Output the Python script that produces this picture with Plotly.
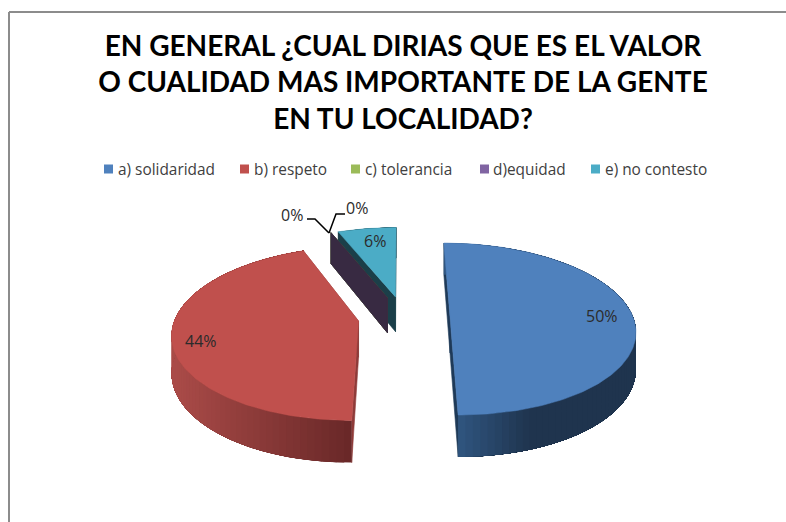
import math
import plotly.graph_objects as go

# ---- data ----
categories = ["a) solidaridad", "b) respeto", "c) tolerancia", "d)equidad", "e) no contesto"]
values = [50, 44, 0, 0, 6]
labels = ["50%", "44%", "0%", "0%", "6%"]
title_lines = ["EN GENERAL ¿CUAL DIRIAS QUE ES EL VALOR",
               "O CUALIDAD MAS IMPORTANTE DE LA GENTE",
               "EN TU LOCALIDAD?"]

# ---- styling ----
top_colors = ["#4f81bd", "#c0504d", "#9bbb59", "#8064a2", "#4bacc6"]
wall_colors = ["#1f3a58", "#8e3b39", "#5d7030", "#382a42", "#1b3f49"]
rim_light = [(48, 86, 128), (170, 75, 72), (120, 145, 70), (90, 70, 115), (50, 120, 140)]
rim_dark = [(31, 52, 78), (105, 40, 40), (80, 100, 45), (56, 42, 66), (27, 63, 73)]
rim_fade = [(457, 530), (175, 350), (0, 1), (0, 1), (0, 1)]
legend_swatch_x = [104, 240, 351, 480, 591]
legend_text_x = [118, 254, 365, 493, 605]
LEGEND_Y = 169.5
label_pos = [(602, 316), (201, 341), (292, 215), (357, 208), (375, 241)]

# 3D projection of the pie (screen pixels)
VX, CY = 400.0, 317.0      # vanishing x, pie centre y
X0 = 4.0                   # pie centre offset in model space
A, B = 183.0, 84.3         # radii of pie in model space
P = 0.00166                # perspective strength
EXPLODE = 46.0             # explosion distance
DEPTH = 36.0               # thickness


def project(X, Y, drop=False):
    s = 1.0 / (1.0 - P * Y)
    return VX + (X0 + X) * s, CY + (Y + (DEPTH if drop else 0.0)) * s


def model_point(cx, cy, deg):
    t = math.radians(deg)
    return cx + A * math.sin(t), cy - B * math.cos(t)


fig = go.Figure()


def poly(pts, color, line_width=0.6):
    xs = [p[0] for p in pts] + [pts[0][0]]
    ys = [p[1] for p in pts] + [pts[0][1]]
    fig.add_trace(go.Scatter(x=xs, y=ys, mode="lines", fill="toself", fillcolor=color,
                             line=dict(color=color, width=line_width),
                             hoverinfo="skip", showlegend=False))


# angular spans of the slices, from the values
total = sum(values)
spans, start = [], 0.0
for v in values:
    end = start + 360.0 * v / total
    spans.append((start, end))
    start = end

draw_order = [4, 2, 3, 1, 0]
for i in draw_order:
    a0, a1 = spans[i]
    mid = (a0 + a1) / 2
    m = math.radians(mid)
    cx = EXPLODE * math.sin(m)
    cy = -EXPLODE * math.cos(m) * B / A

    # radial walls
    for ang in (a0, a1):
        rx, ry = model_point(cx, cy, ang)
        poly([project(cx, cy), project(rx, ry), project(rx, ry, True), project(cx, cy, True)],
             wall_colors[i])

    # rim wall: each band overlays the rest of the rim, so the gradient has no seams
    if a1 > a0:
        n = max(int((a1 - a0) / 2), 1)
        for k in range(n):
            b0 = a0 + (a1 - a0) * k / n
            b1 = a0 + (a1 - a0) * (k + 1) / n
            arc = [model_point(cx, cy, b0 + (a1 - b0) * q / 40) for q in range(41)]
            xmid = (project(*model_point(cx, cy, b0))[0] + project(*model_point(cx, cy, b1))[0]) / 2
            f0, f1 = rim_fade[i]
            f = min(max((xmid - f0) / (f1 - f0), 0.0), 1.0)
            rgb = [round(rim_light[i][c] + (rim_dark[i][c] - rim_light[i][c]) * f) for c in range(3)]
            col = "rgb(%d,%d,%d)" % tuple(rgb)
            pts = [project(*p) for p in arc] + [project(*p, True) for p in reversed(arc)]
            xs = [p[0] for p in pts] + [pts[0][0]]
            ys = [p[1] for p in pts] + [pts[0][1]]
            fig.add_trace(go.Scatter(x=xs, y=ys, mode="lines", fill="toself", fillcolor=col,
                                     line=dict(width=0), hoverinfo="skip", showlegend=False))

    # top face
    if a1 > a0:
        n = max(int((a1 - a0)), 2)
        pts = [project(cx, cy)]
        for k in range(n + 1):
            pts.append(project(*model_point(cx, cy, a0 + (a1 - a0) * k / n)))
        poly(pts, top_colors[i], 0.5)

# leader lines of the two 0% labels
leaders = [[(307, 219), (315, 219), (329, 233)], [(345, 214), (336, 214), (329, 233)]]
for seg in leaders:
    fig.add_trace(go.Scatter(x=[p[0] for p in seg], y=[p[1] for p in seg], mode="lines",
                             line=dict(color="#000000", width=1.5),
                             hoverinfo="skip", showlegend=False))

# legend
for i, name in enumerate(categories):
    fig.add_shape(type="rect", x0=legend_swatch_x[i], x1=legend_swatch_x[i] + 9,
                  y0=LEGEND_Y - 5, y1=LEGEND_Y + 4, fillcolor=top_colors[i], line_width=0)
    fig.add_annotation(x=legend_text_x[i], y=LEGEND_Y, text=name, showarrow=False, xanchor="left",
                       yanchor="middle", xshift=-2,
                       font=dict(family="Open Sans", size=15.4, color="#404040"))

# data labels
for i, lab in enumerate(labels):
    fig.add_annotation(x=label_pos[i][0], y=label_pos[i][1], text=lab, showarrow=False,
                       font=dict(family="Open Sans", size=16, color="#2b2b2b"))

# outer frame, open to the right and bottom of the picture
fig.add_shape(type="line", x0=9, x1=9, y0=12, y1=522, line=dict(color="#8c8c8c", width=2))
fig.add_shape(type="line", x0=9, x1=786, y0=12, y1=12, line=dict(color="#8c8c8c", width=2))

fig.update_layout(
    width=786, height=522,
    margin=dict(l=0, r=0, t=0, b=0),
    paper_bgcolor="white", plot_bgcolor="white",
    showlegend=False,
    title=dict(text="<br>".join(title_lines), x=403 / 786, xanchor="center", y=1 - 56 / 522,
               yanchor="top", font=dict(family="Lato", size=28, color="#000000", weight="bold")),
    xaxis=dict(range=[0, 786], visible=False, fixedrange=True),
    yaxis=dict(range=[522, 0], visible=False, fixedrange=True),
)
fig.write_html("out.html", config=dict(displayModeBar=False),
               post_script="document.body.style.margin='0';")
